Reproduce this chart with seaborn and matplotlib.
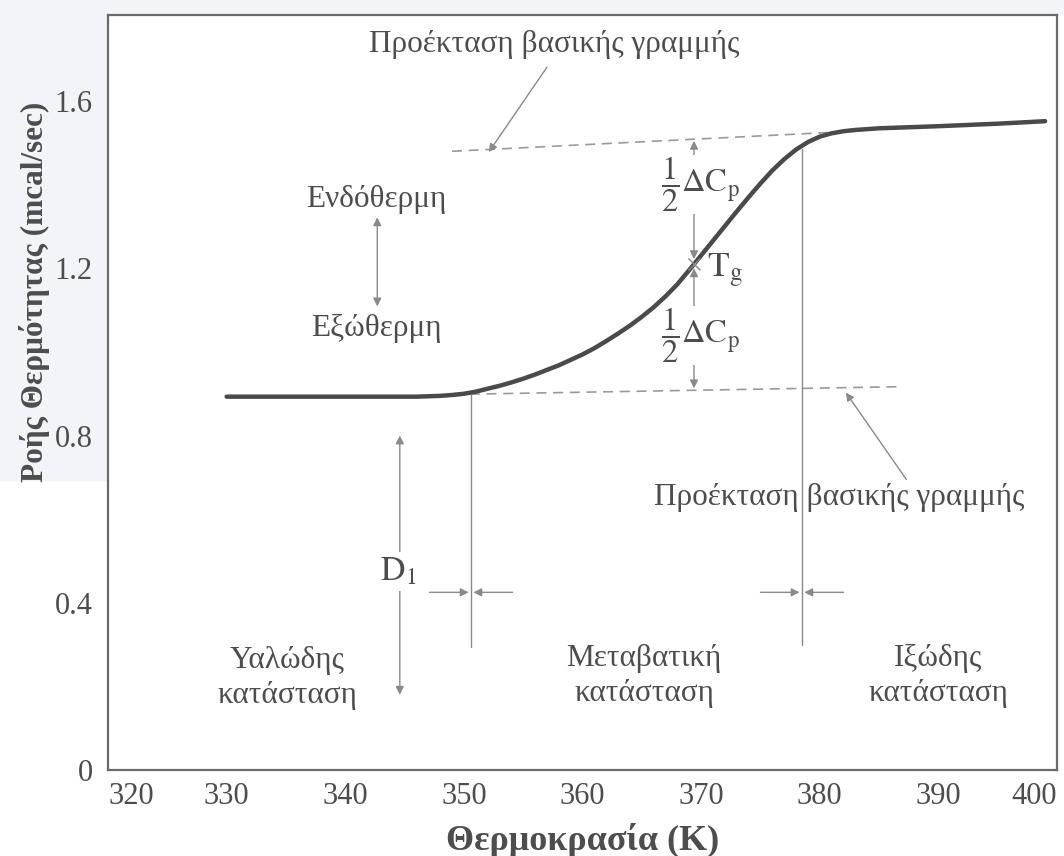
import matplotlib
matplotlib.use("Agg")
import matplotlib.pyplot as plt
from matplotlib.patches import Rectangle
import pandas as pd
import seaborn as sns

# DSC heat-flow trace through the glass transition
temperature = [330, 340, 346, 348, 349, 350, 351, 352, 353, 354, 355, 356, 357,
               358, 359, 360, 361, 362, 363, 364, 365, 366, 367, 368, 369,
               369.4, 370, 371, 372, 373, 374, 375, 376, 377, 378, 379, 380,
               381, 382, 383, 385, 387, 390, 395, 399]
heat_flow = [0.893, 0.893, 0.893, 0.895, 0.897, 0.900, 0.905, 0.912, 0.919,
             0.927, 0.936, 0.946, 0.957, 0.968, 0.981, 0.994, 1.009, 1.026,
             1.044, 1.063, 1.084, 1.107, 1.133, 1.162, 1.196, 1.210, 1.231,
             1.266, 1.301, 1.336, 1.370, 1.403, 1.434, 1.461, 1.484, 1.502,
             1.515, 1.523, 1.528, 1.531, 1.535, 1.537, 1.540, 1.546, 1.552]

# Extrapolated baselines
upper_base_T = [349.0, 381.5]
upper_base_v = [1.480, 1.526]
lower_base_T = [350.5, 387.0]
lower_base_v = [0.899, 0.917]

# Characteristic temperatures
onset_T = 350.6
end_T = 378.5
tg_T = 369.4
tg_v = 1.21

x_ticks = [320, 330, 340, 350, 360, 370, 380, 390, 400]
y_ticks = [0, 0.4, 0.8, 1.2, 1.6]
y_tick_labels = ["0", "0.4", "0.8", "1.2", "1.6"]

sns.set_style("white")
plt.rcParams["font.family"] = ["Liberation Serif", "DejaVu Serif"]
plt.rcParams["mathtext.fontset"] = "stix"

TXT = "#4d4d4d"
THIN = "#8a8a8a"
FS = 22.5

fig = plt.figure(figsize=(10.64, 8.56), dpi=100)
fig.patches.append(Rectangle((0, 1 - 480 / 856), 106 / 1064, 480 / 856,
                             transform=fig.transFigure, color="#f2f4f9", zorder=-5))
fig.patches.append(Rectangle((0, 1 - 14 / 856), 1, 14 / 856,
                             transform=fig.transFigure, color="#f2f4f9", zorder=-5))
ax = fig.add_axes([108 / 1064, 86 / 856, 949 / 1064, 755 / 856])
ax.set_facecolor("white")

df = pd.DataFrame({"T": temperature, "q": heat_flow})
sns.lineplot(data=df, x="T", y="q", ax=ax, color="#4a4a4a", lw=3.2, zorder=4)

dash = dict(color="#9a9a9a", lw=1.2, dashes=(6, 4), zorder=2)
ax.plot(upper_base_T, upper_base_v, **dash)
ax.plot(lower_base_T, lower_base_v, **dash)

# Onset / end verticals
ax.plot([onset_T, onset_T], [0.898, 0.295], color=THIN, lw=1, zorder=2)
ax.plot([end_T, end_T], [1.485, 0.30], color=THIN, lw=1, zorder=2)

arr = dict(arrowstyle="-|>", color=THIN, lw=1, mutation_scale=12,
           shrinkA=0, shrinkB=0)
darr = dict(arrowstyle="<|-|>", color=THIN, lw=1, mutation_scale=12,
            shrinkA=0, shrinkB=0)

# Width arrows at the onset and end temperatures
for xv in (onset_T, end_T):
    ax.annotate("", xy=(xv - 0.2, 0.425), xytext=(xv - 3.5, 0.425), arrowprops=arr)
    ax.annotate("", xy=(xv + 0.2, 0.425), xytext=(xv + 3.5, 0.425), arrowprops=arr)

# Half delta Cp arrows around Tg
ax.annotate("", xy=(tg_T, 1.505), xytext=(tg_T, 1.40), arrowprops=arr, zorder=3)
ax.annotate("", xy=(tg_T, 1.222), xytext=(tg_T, 1.40), arrowprops=arr, zorder=3)
ax.annotate("", xy=(tg_T, 1.200), xytext=(tg_T, 1.04), arrowprops=arr, zorder=3)
ax.annotate("", xy=(tg_T, 0.913), xytext=(tg_T, 1.04), arrowprops=arr, zorder=3)
ax.plot([tg_T], [tg_v], marker="x", ms=9, mew=1, color=THIN, zorder=5)

half_dcp = r"$\dfrac{1}{2}\Delta\mathrm{C}_\mathrm{p}$"
ax.text(366.6, 1.40, half_dcp, fontsize=FS + 1, color=TXT, ha="left", va="center",
        zorder=3.5, bbox=dict(facecolor="white", edgecolor="none", pad=0))
ax.text(366.6, 1.04, half_dcp, fontsize=FS + 1, color=TXT, ha="left", va="center",
        zorder=3.5, bbox=dict(facecolor="white", edgecolor="none", pad=0))
ax.text(370.5, 1.195, r"$\mathrm{T}_\mathrm{g}$", fontsize=FS + 3, color=TXT,
        ha="left", va="center", zorder=6)

# D1 arrow
ax.annotate("", xy=(344.6, 0.80), xytext=(344.6, 0.18), arrowprops=darr, zorder=3)
ax.text(344.5, 0.475, r"$\mathrm{D}_1$", fontsize=FS + 2, color=TXT, ha="center",
        va="center", zorder=6,
        bbox=dict(facecolor="white", edgecolor="none", pad=3))

# Endothermic / exothermic direction
ax.annotate("", xy=(342.7, 1.322), xytext=(342.7, 1.109), arrowprops=darr)
ax.text(342.6, 1.365, "Ενδόθερμη", fontsize=FS, color=TXT, ha="center", va="center")
ax.text(342.6, 1.056, "Εξώθερμη", fontsize=FS, color=TXT, ha="center", va="center")

# Baseline extrapolation callouts
ax.text(357.6, 1.735, "Προέκταση βασικής γραμμής", fontsize=FS, color=TXT,
        ha="center", va="center")
ax.annotate("", xy=(352.1, 1.478), xytext=(357.0, 1.681), arrowprops=arr)
ax.text(381.6, 0.652, "Προέκταση βασικής γραμμής", fontsize=FS, color=TXT,
        ha="center", va="center")
ax.annotate("", xy=(382.2, 0.903), xytext=(387.3, 0.695), arrowprops=arr)

# Region labels
ax.text(335.1, 0.22, "Υαλώδης\nκατάσταση", fontsize=FS, color=TXT, ha="center",
        va="center", linespacing=1.25)
ax.text(365.2, 0.225, "Μεταβατική\nκατάσταση", fontsize=FS, color=TXT, ha="center",
        va="center", linespacing=1.25)
ax.text(390.0, 0.225, "Ιξώδης\nκατάσταση", fontsize=FS, color=TXT, ha="center",
        va="center", linespacing=1.25)

ax.set_xlim(320, 400)
ax.set_ylim(0, 1.806)
ax.set_xticks(x_ticks)
ax.set_xticklabels([str(t) for t in x_ticks])
ax.set_yticks(y_ticks)
ax.set_yticklabels(y_tick_labels)
ax.set_yticks([v / 10 for v in range(0, 18)], minor=True)
ax.tick_params(axis="x", which="major", direction="in", length=13, width=1,
               color=THIN, labelsize=22, labelcolor=TXT, pad=9, top=False)
ax.tick_params(axis="y", which="both", direction="in", length=10, width=1,
               color=THIN, labelsize=22, labelcolor=TXT, pad=11, right=False)
xl = ax.get_xticklabels()
xl[0].set_ha("left")
xl[-1].set_ha("right")

for sp in ax.spines.values():
    sp.set_visible(True)
    sp.set_color("#6a6a6a")
    sp.set_linewidth(1.6)

ax.set_xlabel("Θερμοκρασία (K)", fontsize=26, fontweight="bold", color=TXT)
ax.set_ylabel("Ροής Θερμότητας (mcal/sec)", fontsize=22.5, fontweight="bold",
              color=TXT)
ax.xaxis.set_label_coords(0.5005, -0.07)
ax.yaxis.set_label_coords(-0.061, 0.633)

fig.savefig("out.png", dpi=100)
